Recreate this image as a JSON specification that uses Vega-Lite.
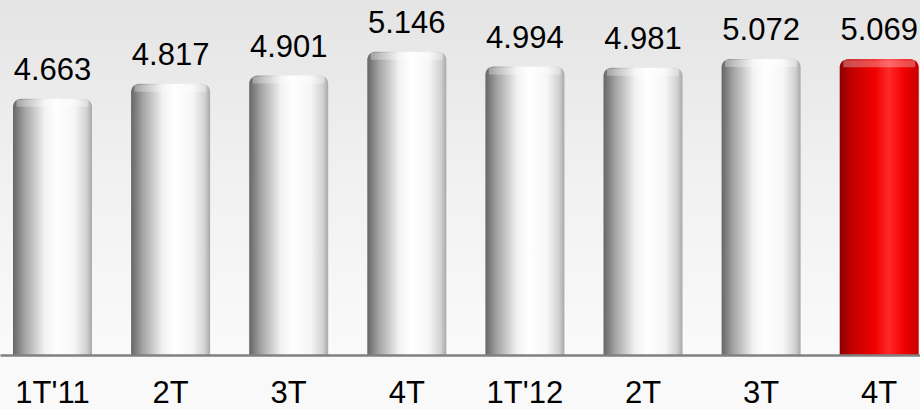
{
  "$schema": "https://vega.github.io/schema/vega-lite/v6.json",
  "width": 920,
  "height": 355,
  "padding": {"left": 0, "top": 0, "right": 0, "bottom": 54},
  "autosize": {"type": "none"},
  "background": "#f9f9f9",
  "config": {"view": {"stroke": null}, "font": "Liberation Sans"},
  "data": {
    "values": [
      {"periodo": "1T'11", "valor": 4.663},
      {"periodo": "2T'11", "valor": 4.817},
      {"periodo": "3T'11", "valor": 4.901},
      {"periodo": "4T'11", "valor": 5.146},
      {"periodo": "1T'12", "valor": 4.994},
      {"periodo": "2T'12", "valor": 4.981},
      {"periodo": "3T'12", "valor": 5.072},
      {"periodo": "4T'12", "valor": 5.069}
    ]
  },
  "encoding": {
    "x": {
      "field": "periodo",
      "type": "nominal",
      "sort": null,
      "scale": {"range": [0, 931.7], "paddingInner": 0.331, "paddingOuter": 0.11},
      "axis": {
        "title": null,
        "labelAngle": 0,
        "ticks": false,
        "domainColor": "#808080",
        "domainWidth": 2.5,
        "labelFontSize": 31,
        "labelColor": "#000000",
        "labelFont": "Liberation Sans",
        "labelPadding": 23.5,
        "zindex": 1,
        "labelExpr": "(datum.value === \"1T'11\" || datum.value === \"1T'12\") ? datum.value : slice(datum.value, 0, 2)"
      }
    },
    "y": {
      "field": "valor",
      "type": "quantitative",
      "scale": {"domain": [2.03, 5.678], "zero": false, "nice": false},
      "axis": null
    }
  },
  "layer": [
    {
      "data": {"values": [{}]},
      "mark": {
        "type": "rect",
        "fill": {
          "gradient": "linear",
          "x1": 0, "y1": 0, "x2": 0, "y2": 1,
          "stops": [
            {"offset": 0, "color": "#e4e4e4"},
            {"offset": 0.5, "color": "#f1f1f1"},
            {"offset": 1, "color": "#fafafa"}
          ]
        }
      },
      "encoding": {"x": null, "y": null}
    },
    {
      "mark": {"type": "bar", "cornerRadiusTopLeft": 8, "cornerRadiusTopRight": 8},
      "encoding": {
        "y2": {"datum": 2.03},
        "color": {
          "condition": {
            "test": "datum.periodo === \"4T'12\"",
            "value": {
              "gradient": "linear",
              "x1": 0, "y1": 0, "x2": 1, "y2": 0,
              "stops": [
                {"offset": 0, "color": "#8a0000"},
                {"offset": 0.15, "color": "#c00000"},
                {"offset": 0.45, "color": "#f00000"},
                {"offset": 0.62, "color": "#ff2a2a"},
                {"offset": 0.82, "color": "#f00000"},
                {"offset": 1, "color": "#c40000"}
              ]
            }
          },
          "value": {
            "gradient": "linear",
            "x1": 0, "y1": 0, "x2": 1, "y2": 0,
            "stops": [
              {"offset": 0, "color": "#666666"},
              {"offset": 0.15, "color": "#a4a4a4"},
              {"offset": 0.4, "color": "#f2f2f2"},
              {"offset": 0.55, "color": "#ffffff"},
              {"offset": 0.78, "color": "#f6f6f6"},
              {"offset": 0.93, "color": "#d2d2d2"},
              {"offset": 1, "color": "#a8a8a8"}
            ]
          }
        }
      }
    },
    {
      "mark": {"type": "tick", "orient": "horizontal", "size": 72, "thickness": 7, "yOffset": 4.5, "color": "#ffffff", "opacity": 0.3},
      "encoding": {}
    },
    {
      "mark": {"type": "text", "baseline": "alphabetic", "dy": -19, "fontSize": 31, "font": "Liberation Sans", "color": "#000000"},
      "encoding": {"text": {"field": "valor", "type": "quantitative", "format": ".3f"}}
    }
  ]
}
